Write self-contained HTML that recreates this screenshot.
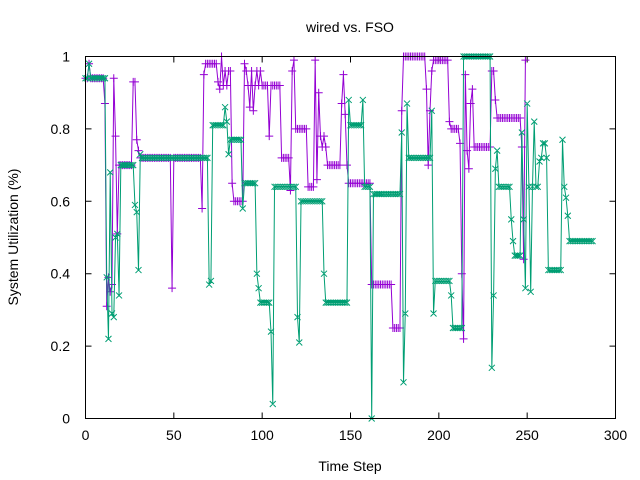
<!DOCTYPE html>
<html><head><meta charset="utf-8"><style>
html,body{margin:0;padding:0;background:#fff;}
svg{display:block;font-family:"Liberation Sans",sans-serif;}
</style></head><body>
<svg id="chart" width="640" height="480" viewBox="0 0 640 480" xmlns="http://www.w3.org/2000/svg">
<rect width="640" height="480" fill="#fff"/>
<text x="350" y="32" font-size="14" text-anchor="middle">wired vs. FSO</text>
<text x="350" y="471" font-size="14" text-anchor="middle">Time Step</text>
<text transform="translate(18,237) rotate(-90)" font-size="14" text-anchor="middle">System Utilization (%)</text>
<g id="axes"></g>
<g id="series"></g>
<rect x="85.5" y="56.5" width="530" height="362" fill="none" stroke="#000" stroke-width="1"/>
</svg>
<script>
const xTicks = [0,50,100,150,200,250,300];
const yTicks = [0,0.2,0.4,0.6,0.8,1];
const yTickLabels = ["0","0.2","0.4","0.6","0.8","1"];
const wiredValues = [
.94,.94,.98,.94,.94,.94,.94,.94,.94,.94,.94,.87,
.31,.39,.35,.37,.94,.78,.51,
.70,.70,.70,.70,.70,.70,.70,.70,
.93,.93,.77,.74,
.72,.72,.72,.72,.72,.72,.72,.72,.72,.72,.72,.72,.72,.72,.72,.72,.72,.72,
.36,
.72,.72,.72,.72,.72,.72,.72,.72,.72,.72,.72,.72,.72,.72,.72,.72,
.58,.95,
.98,.98,.98,.98,.98,.98,.98,.93,.91,1.0,.92,.96,.92,.96,.96,.65,
.60,.60,.60,.60,.60,.60,
.98,.96,.92,.86,.96,.85,.92,.96,.92,.96,
.92,.92,.92,.92,.78,.92,.92,.92,.92,.92,.92,
.72,.72,.72,.72,.72,
.63,.96,.99,
.80,.80,.80,.80,.80,.80,.80,
.64,.64,.64,.64,
.99,.66,.90,.78,.75,.78,.75,
.70,.70,.70,.70,.70,.70,.70,.70,
.87,.95,.84,.70,
.65,.65,.65,.65,.65,.65,.65,.65,.65,.65,.65,.65,.65,
.37,.37,.37,.37,.37,.37,.37,.37,.37,.37,.37,.37,
.25,.25,.25,.25,.25,
.85,
1,1,1,1,1,1,1,1,1,1,1,1,1,
.91,.70,.85,.96,
.99,.99,.99,.99,.99,.99,.99,.99,.99,
.82,
.80,.80,.80,.80,.80,
.76,.40,.22,.95,.74,.69,.87,.91,
.75,.75,.75,.75,.75,.75,.75,.75,.75,.75,
.96,.96,.88,
.83,.83,.83,.83,.83,.83,.83,.83,.83,.83,.83,.83,.83,
.83,.75,.44,.99
];
const fsoValues = [
.94,.94,.98,.94,.94,.94,.94,.94,.94,.94,.94,.94,
.39,.22,.68,.29,.28,.50,.51,.34,
.70,.70,.70,.70,.70,.70,.70,.70,
.59,.57,.41,.73,
.72,.72,.72,.72,.72,.72,.72,.72,.72,.72,.72,.72,.72,.72,.72,.72,.72,.72,.72,
.72,.72,.72,.72,.72,.72,.72,.72,.72,.72,.72,.72,.72,.72,.72,.72,.72,.72,.72,
.37,.38,
.81,.81,.81,.81,.81,.81,.81,.86,.82,.73,
.77,.77,.77,.77,.77,.77,.77,
.58,
.65,.65,.65,.65,.65,.65,.65,
.40,.36,
.32,.32,.32,.32,.32,.32,
.24,.04,
.64,.64,.64,.64,.64,.64,.64,.64,.64,.64,.64,.64,.64,
.28,.21,
.60,.60,.60,.60,.60,.60,.60,.60,.60,.60,.60,.60,.60,
.40,
.32,.32,.32,.32,.32,.32,.32,.32,.32,.32,.32,.32,.32,
.88,
.81,.81,.81,.81,.81,.81,.81,
.88,
.64,.64,.64,.64,
0,
.62,.62,.62,.62,.62,.62,.62,.62,.62,.62,.62,.62,.62,.62,.62,.62,
.79,.10,.29,.87,
.72,.72,.72,.72,.72,.72,.72,.72,.72,.72,.72,.72,.72,
.85,.29,
.38,.38,.38,.38,.38,.38,.38,.38,.38,
.34,
.25,.25,.25,.25,.25,.25,
1,1,1,1,1,1,1,1,1,1,1,1,1,1,1,1,
.14,.34,.69,.74,
.64,.64,.64,.64,.64,.64,.64,
.55,.49,
.45,.45,.45,.45,
.79,.55,.36,.87,.64,.35,.64,.82,.64,.64,.71,.72,.76,.76,.72,
.41,.41,.41,.41,.41,.41,.41,.41,
.77,.64,.61,.56,
.49,.49,.49,.49,.49,.49,.49,.49,.49,.49,.49,.49,.49,.49
];
const NS="http://www.w3.org/2000/svg";
const X0=85.5,X1=615.5,Y0=418.5,Y1=56.5;
function xs(t){return X0+(t-0)/(300-0)*(X1-X0);}
function ys(v){return Y0-(v-0)/(1-0)*(Y0-Y1);}
function mk(tag,attrs,parent){const e=document.createElementNS(NS,tag);for(const k in attrs)e.setAttribute(k,attrs[k]);parent.appendChild(e);return e;}
const axes=document.getElementById('axes');
xTicks.forEach(t=>{
  const x=xs(t);
  const l=mk('path',{d:`M${x} ${Y0}v-6M${x} ${Y1}v6`,stroke:'#000','stroke-width':1},axes);
  
  
  const tx=mk('text',{x:x,y:440,'font-size':14,'text-anchor':'middle'},axes);
  tx.textContent=String(t);
  
  
});
yTicks.forEach((v,i)=>{
  const y=ys(v);
  const l=mk('path',{d:`M${X0} ${y}h6M${X1} ${y}h-6`,stroke:'#000','stroke-width':1},axes);
  
  
  const tx=mk('text',{x:70,y:y+5,'font-size':14,'text-anchor':'end'},axes);
  tx.textContent=yTickLabels[i];
  
  
});
const g=document.getElementById('series');
function drawSeries(vals,color,marker,name){
  const grp=mk('g',{},g);
  
  
  let d='';
  vals.forEach((v,i)=>{d+=(i?'L':'M')+xs(i).toFixed(2)+' '+ys(v).toFixed(2);});
  const p=mk('path',{d:d,fill:'none',stroke:color,'stroke-width':1},grp);
  
  
  let md='';
  vals.forEach((v,i)=>{const x=xs(i),y=ys(v);
    if(marker==='+')md+=`M${x-4} ${y}h8M${x} ${y-4}v8`;
    else md+=`M${x-3} ${y-3}l6 6M${x-3} ${y+3}l6 -6`;});
  const m=mk('path',{d:md,fill:'none',stroke:color,'stroke-width':1},grp);
  
  
}
drawSeries(wiredValues,'#9400d3','+','wired-series');
drawSeries(fsoValues,'#009e73','x','fso-series');
</script>
</body></html>
